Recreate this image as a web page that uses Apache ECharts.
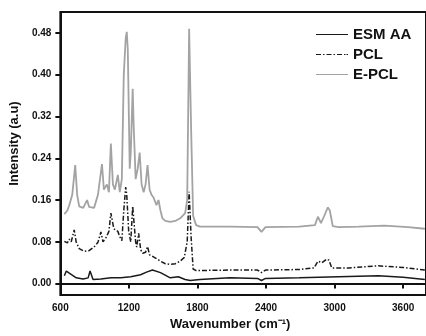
<!DOCTYPE html>
<html>
<head>
<meta charset="utf-8">
<script src="https://cdn.jsdelivr.net/npm/echarts@6/dist/echarts.min.js"></script>
<style>
  html, body { margin: 0; padding: 0; background: #fff; }
  #chart { width: 426px; height: 336px; }
</style>
</head>
<body>
<div id="chart"></div>
<script>
// tick labels
const xTicks = [600, 1200, 1800, 2400, 3000, 3600];
const yTicks = [0, 0.08, 0.16, 0.24, 0.32, 0.40, 0.48];

// ESM AA (solid black)
const esmWave = [635, 652, 678, 695, 739, 799, 843, 860, 886, 955, 1042, 1129, 1216, 1302, 1354, 1406,
  1476, 1562, 1632, 1692, 1736, 1822, 2083, 2325, 2360, 2395, 2690, 3036, 3383, 3600, 3790];
const esmValues = [0.015, 0.024, 0.020, 0.017, 0.011, 0.009, 0.011, 0.024, 0.008, 0.009, 0.011, 0.011, 0.013, 0.017, 0.022, 0.026,
  0.021, 0.011, 0.013, 0.008, 0.006, 0.008, 0.011, 0.010, 0.006, 0.010, 0.011, 0.013, 0.015, 0.012, 0.008];

// PCL (dash-dot black)
const pclWave = [635, 661, 678, 695, 721, 738, 765, 808, 851, 895, 929, 955, 973, 999, 1025, 1042,
  1068, 1103, 1120, 1138, 1155, 1172, 1181, 1198, 1216, 1233, 1251, 1259, 1268, 1285, 1303, 1320,
  1346, 1363, 1381, 1407, 1441, 1476, 1519, 1562, 1606, 1649, 1684, 1710, 1727, 1744, 1762, 1788,
  2083, 2325, 2360, 2395, 2690, 2820, 2854, 2889, 2932, 2950, 2976, 3123, 3383, 3600, 3790];
const pclValues = [0.081, 0.078, 0.085, 0.080, 0.103, 0.080, 0.067, 0.062, 0.063, 0.070, 0.079, 0.099, 0.080, 0.088, 0.100, 0.135,
  0.105, 0.100, 0.090, 0.082, 0.140, 0.185, 0.170, 0.100, 0.080, 0.148, 0.100, 0.080, 0.070, 0.096, 0.065, 0.058,
  0.060, 0.071, 0.055, 0.052, 0.048, 0.043, 0.038, 0.037, 0.038, 0.043, 0.050, 0.080, 0.176, 0.090, 0.028, 0.025,
  0.026, 0.026, 0.021, 0.026, 0.027, 0.030, 0.043, 0.040, 0.047, 0.045, 0.030, 0.030, 0.034, 0.031, 0.026];

// E-PCL (grey)
const epclWave = [635, 661, 678, 704, 730, 747, 765, 800, 834, 851, 895, 929, 964, 981, 1007, 1025,
  1042, 1060, 1077, 1103, 1120, 1138, 1155, 1172, 1181, 1190, 1207, 1216, 1233, 1242, 1259, 1277,
  1294, 1311, 1329, 1346, 1363, 1381, 1398, 1415, 1441, 1459, 1476, 1493, 1519, 1562, 1606, 1649,
  1692, 1710, 1727, 1744, 1762, 1788, 1822, 2083, 2325, 2360, 2395, 2690, 2828, 2854, 2863, 2881,
  2906, 2941, 2958, 2984, 3036, 3210, 3435, 3643, 3790];
const epclValues = [0.133, 0.140, 0.150, 0.170, 0.227, 0.170, 0.148, 0.145, 0.160, 0.147, 0.145, 0.170, 0.229, 0.180, 0.190, 0.175,
  0.268, 0.190, 0.180, 0.208, 0.175, 0.200, 0.400, 0.470, 0.482, 0.450, 0.220, 0.250, 0.373, 0.300, 0.200, 0.220,
  0.251, 0.190, 0.175, 0.190, 0.227, 0.180, 0.170, 0.165, 0.150, 0.160, 0.140, 0.125, 0.120, 0.118, 0.120, 0.125,
  0.135, 0.160, 0.488, 0.300, 0.130, 0.112, 0.109, 0.109, 0.108, 0.099, 0.108, 0.109, 0.112, 0.128, 0.131, 0.116,
  0.128, 0.146, 0.140, 0.110, 0.108, 0.109, 0.111, 0.108, 0.105];

const zip = (xs, ys) => xs.map((x, i) => [x, ys[i]]);

const chart = echarts.init(document.getElementById('chart'), null, { renderer: 'canvas' });

const textColor = '#111';
const font = 'Liberation Sans, Arial, sans-serif';
const black = '#1a1a1a';
const grey = '#a3a3a3';

// legend glyphs: plain bar for solid lines, dash-dot bar for PCL
const solidIcon = 'path://M0,0h32v1h-32z';
const dashDotIcon = 'path://M0,0h5v1h-5z M7,0h1.5v1h-1.5z M10.5,0h5v1h-5z M17.5,0h1.5v1h-1.5z M21,0h5v1h-5z M28,0h1.5v1h-1.5z M30.5,0h1.5v1h-1.5z';

chart.setOption({
  animation: false,
  textStyle: { fontFamily: font },
  grid: {
    left: 59,
    right: -3,
    top: 12,
    bottom: 35,
    show: true,
    borderColor: '#111',
    borderWidth: 2,
    backgroundColor: 'transparent'
  },
  legend: {
    orient: 'vertical',
    left: 316,
    top: 27,
    padding: 0,
    itemWidth: 32,
    itemHeight: 2,
    itemGap: 5,
    textStyle: { fontFamily: font, fontSize: 15, fontWeight: 'bold', color: textColor, lineHeight: 14.5 },
    data: [
      { name: 'ESM AA', icon: solidIcon, itemStyle: { color: black } },
      { name: 'PCL', icon: dashDotIcon, itemStyle: { color: black } },
      { name: 'E-PCL', icon: solidIcon, itemStyle: { color: grey } }
    ]
  },
  xAxis: {
    type: 'value',
    min: 600,
    max: 3800,
    name: 'Wavenumber (cm\u207B\u00B9)',
    nameLocation: 'middle',
    nameGap: 20,
    nameTextStyle: { fontFamily: font, fontSize: 13, fontWeight: 'bold', color: textColor, padding: [0, 26, 0, 0] },
    axisLine: { lineStyle: { color: '#111', width: 2 } },
    axisTick: { show: true, length: 5, lineStyle: { color: '#111', width: 2 }, customValues: xTicks },
    axisLabel: {
      fontFamily: font, fontSize: 10, fontWeight: 'bold', color: textColor, margin: 8,
      customValues: xTicks,
      formatter: (v) => String(v)
    },
    splitLine: { show: false }
  },
  yAxis: {
    type: 'value',
    min: -0.022,
    max: 0.52,
    name: 'Intensity (a.u)',
    nameLocation: 'middle',
    nameGap: 38,
    nameTextStyle: { fontFamily: font, fontSize: 13, fontWeight: 'bold', color: textColor, padding: [0, 0, 0, 20] },
    axisLine: { show: true, lineStyle: { color: '#111', width: 2 } },
    axisTick: { show: true, length: 5, lineStyle: { color: '#111', width: 2 }, customValues: yTicks },
    axisLabel: {
      fontFamily: font, fontSize: 10, fontWeight: 'bold', color: textColor, margin: 9,
      customValues: yTicks,
      formatter: (v) => v.toFixed(2)
    },
    splitLine: { show: false }
  },
  series: [
    {
      name: 'ESM AA',
      type: 'line',
      symbol: 'none',
      data: zip(esmWave, esmValues),
      lineStyle: { color: black, width: 1.5 },
      itemStyle: { color: black },
      z: 3
    },
    {
      name: 'PCL',
      type: 'line',
      symbol: 'none',
      data: zip(pclWave, pclValues),
      lineStyle: { color: black, width: 1.5, type: [5, 2, 1.5, 2] },
      itemStyle: { color: black },
      z: 3
    },
    {
      name: 'E-PCL',
      type: 'line',
      symbol: 'none',
      data: zip(epclWave, epclValues),
      lineStyle: { color: grey, width: 1.8 },
      itemStyle: { color: grey },
      z: 2
    }
  ]
});
</script>
</body>
</html>
